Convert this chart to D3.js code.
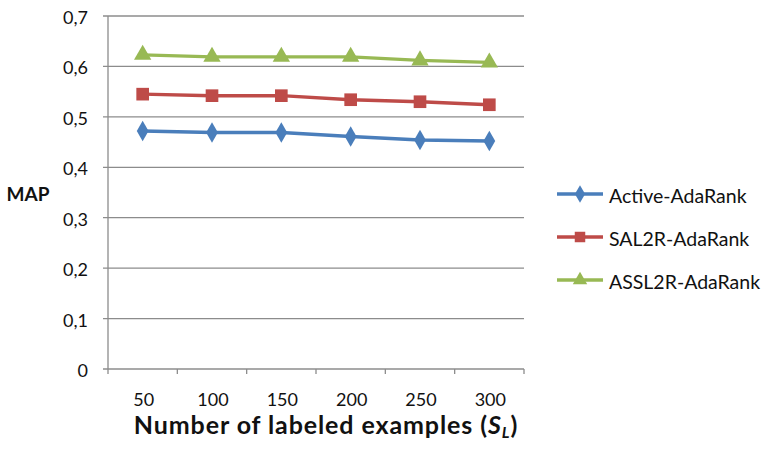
<!DOCTYPE html>
<html>
<head>
<meta charset="utf-8">
<script src="https://cdn.jsdelivr.net/npm/d3@7"></script>
<style>
  html, body { margin: 0; padding: 0; background: #fff; }
  svg { display: block; }
  text { font-family: Lato, "Open Sans", sans-serif; fill: #111; }
</style>
</head>
<body>
<svg id="chart" width="767" height="450"></svg>
<script>
// Chart data
const categories = ["50", "100", "150", "200", "250", "300"];
const seriesNames = ["Active-AdaRank", "SAL2R-AdaRank", "ASSL2R-AdaRank"];
const activeValues = [0.472, 0.469, 0.469, 0.461, 0.454, 0.452];
const sal2rValues  = [0.545, 0.542, 0.542, 0.534, 0.530, 0.524];
const assl2rValues = [0.623, 0.619, 0.619, 0.619, 0.612, 0.608];
const yTicks = [0, 0.1, 0.2, 0.3, 0.4, 0.5, 0.6, 0.7];

const series = [
  { name: seriesNames[0], values: activeValues, color: "#4A7EBB", marker: "diamond" },
  { name: seriesNames[1], values: sal2rValues,  color: "#BE4B48", marker: "square" },
  { name: seriesNames[2], values: assl2rValues, color: "#98B954", marker: "triangle" }
];

const svg = d3.select("#chart");
const plotLeft = 108, plotRight = 524, plotTop = 16, plotBottom = 369;

const x = d3.scaleBand().domain(categories).range([plotLeft, plotRight]);
const y = d3.scaleLinear().domain([0, 0.7]).range([plotBottom, plotTop]);

const fmt = v => v === 0 ? "0" : d3.format(".1f")(v).replace(".", ",");

// Horizontal gridlines
svg.append("g").selectAll("line").data(yTicks).join("line")
  .attr("x1", plotLeft - 5).attr("x2", plotRight)
  .attr("y1", d => y(d)).attr("y2", d => y(d))
  .attr("stroke", "#8c8c8c").attr("stroke-width", 1.3);

// Y axis labels
svg.append("g").selectAll("text").data(yTicks).join("text")
  .attr("x", 88).attr("y", d => y(d) + 8)
  .attr("text-anchor", "end").attr("font-size", 18)
  .text(fmt);

// Vertical axis line
svg.append("line").attr("x1", plotLeft).attr("x2", plotLeft).attr("y1", plotTop).attr("y2", plotBottom)
  .attr("stroke", "#8c8c8c").attr("stroke-width", 1.3);

// X tick marks at band boundaries
const boundaries = categories.map(c => x(c) + x.bandwidth()).concat([plotLeft]);
svg.append("g").selectAll("line").data(boundaries).join("line")
  .attr("x1", d => d).attr("x2", d => d)
  .attr("y1", plotBottom).attr("y2", plotBottom + 5)
  .attr("stroke", "#8c8c8c").attr("stroke-width", 1.3);

// X tick labels
svg.append("g").selectAll("text").data(categories).join("text")
  .attr("x", d => x(d) + x.bandwidth() / 2 + 1).attr("y", 406)
  .attr("text-anchor", "middle").attr("font-size", 18)
  .text(d => d);

// Axis titles
svg.append("text").attr("x", 28).attr("y", 201)
  .attr("text-anchor", "middle").attr("font-size", 19).attr("font-weight", "bold")
  .text("MAP");

const xt = svg.append("text").attr("x", 326).attr("y", 434)
  .attr("text-anchor", "middle").attr("font-size", 25).attr("font-weight", "bold")
  .attr("letter-spacing", 0.9);
xt.append("tspan").text("Number of labeled examples (");
xt.append("tspan").attr("font-style", "italic").text("S");
xt.append("tspan").attr("font-style", "italic").attr("font-size", 16).attr("dy", 4).text("L");
xt.append("tspan").attr("dy", -4).text(")");

// Marker symbols
const symbolType = m => m === "diamond" ? d3.symbolDiamond : m === "square" ? d3.symbolSquare : d3.symbolTriangle;
const markerSize = { diamond: 120, square: 160, triangle: 130 };

const line = d3.line()
  .x((d, i) => x(categories[i]) + x.bandwidth() / 2)
  .y(d => y(d));

series.forEach(s => {
  svg.append("path").attr("d", line(s.values))
    .attr("fill", "none").attr("stroke", s.color).attr("stroke-width", 3.4)
    .attr("stroke-linejoin", "round");
  svg.append("g").selectAll("path").data(s.values).join("path")
    .attr("transform", (d, i) => `translate(${x(categories[i]) + x.bandwidth() / 2},${y(d)})`)
    .attr("d", d3.symbol().type(symbolType(s.marker)).size(markerSize[s.marker])())
    .attr("fill", s.color);
});

// Legend
const legendY = [194, 237, 280];
series.forEach((s, i) => {
  const g = svg.append("g").attr("transform", `translate(557,${legendY[i]})`);
  g.append("line").attr("x1", 0).attr("x2", 46).attr("y1", 0).attr("y2", 0)
    .attr("stroke", s.color).attr("stroke-width", 3.4);
  g.append("path").attr("transform", "translate(23,0)")
    .attr("d", d3.symbol().type(symbolType(s.marker)).size(s.marker === "square" ? 110 : 90)())
    .attr("fill", s.color);
  g.append("text").attr("x", 52).attr("y", 9)
    .attr("font-size", 19.5).text(s.name);
});
</script>
</body>
</html>
